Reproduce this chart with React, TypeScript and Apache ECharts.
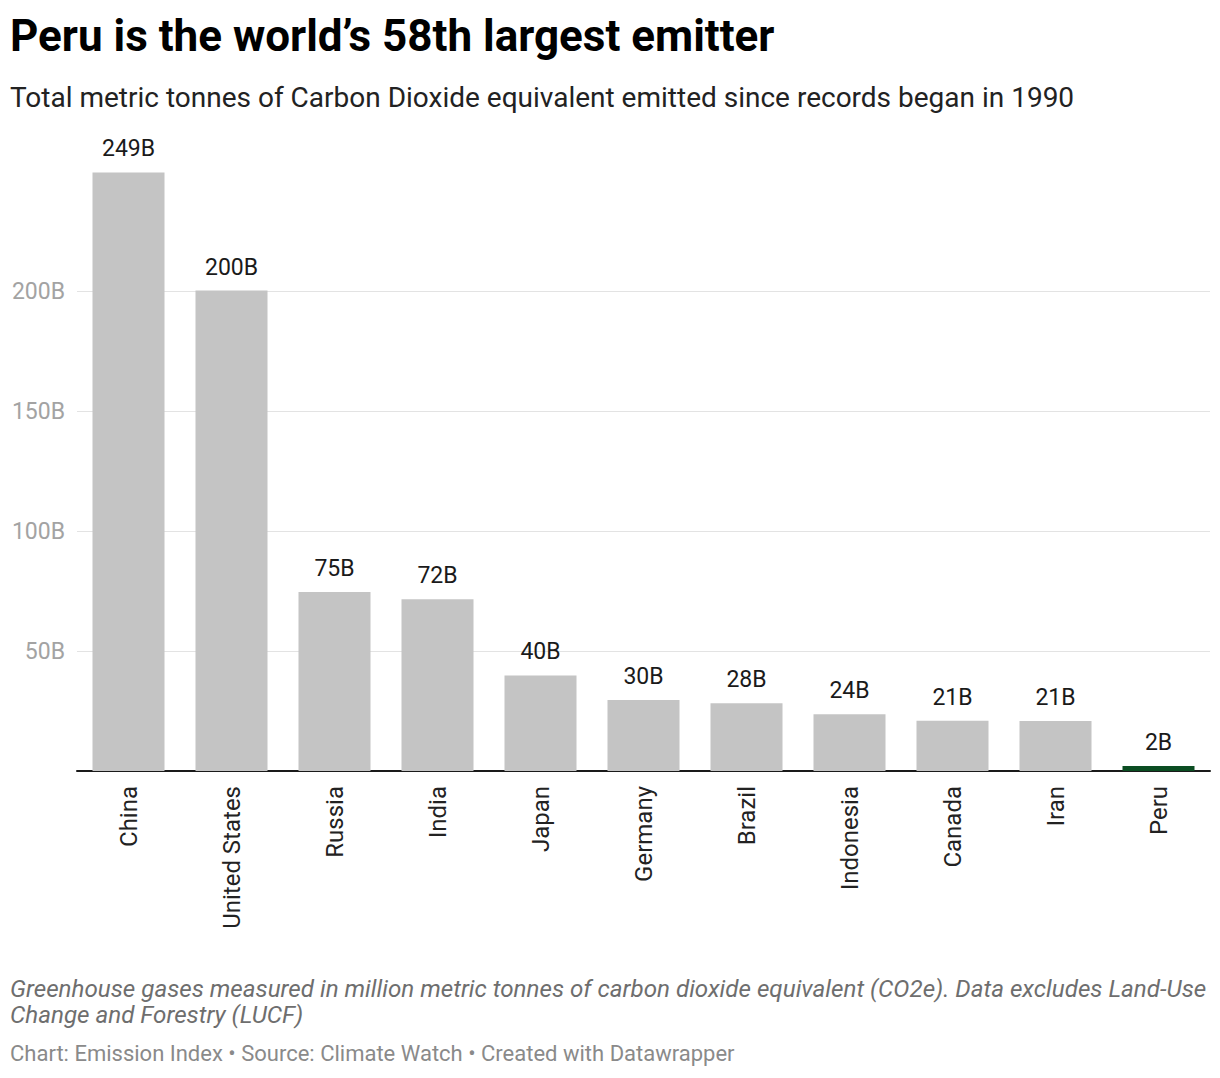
import React, { useEffect, useRef } from 'react';
import * as echarts from 'echarts';

const countries = ['China', 'United States', 'Russia', 'India', 'Japan', 'Germany', 'Brazil', 'Indonesia', 'Canada', 'Iran', 'Peru'];
const emissions = [249.4, 200.2, 74.6, 71.6, 39.8, 29.6, 28.2, 23.6, 20.9, 20.8, 2.1];
const highlight = 'Peru';
const yTicks = [50, 100, 150, 200];

const FONT = 'Roboto, "Noto Sans", sans-serif';

const App: React.FC = () => {
  const chartRef = useRef<HTMLDivElement>(null);

  useEffect(() => {
    if (!chartRef.current) return;
    const chart = echarts.init(chartRef.current, null, { renderer: 'svg' });

    const option: echarts.EChartsOption = {
      animation: false,
      textStyle: { fontFamily: FONT },
      title: [
        {
          text: 'Peru is the world’s 58th largest emitter',
          left: 10,
          top: 11,
          padding: 0,
          textStyle: { fontSize: 44, fontWeight: 'bold', color: '#000', lineHeight: 50, fontFamily: FONT }
        },
        {
          text: 'Total metric tonnes of Carbon Dioxide equivalent emitted since records began in 1990',
          left: 10,
          top: 81,
          padding: 0,
          textStyle: { fontSize: 28, fontWeight: 'normal', color: '#222', lineHeight: 32, fontFamily: FONT }
        },
        {
          text: 'Greenhouse gases measured in million metric tonnes of carbon dioxide equivalent (CO2e). Data excludes Land-Use\nChange and Forestry (LUCF)',
          left: 10,
          top: 976,
          padding: 0,
          textStyle: { fontSize: 24.2, fontWeight: 'normal', fontStyle: 'italic', color: '#6e6e6e', lineHeight: 26, fontFamily: FONT }
        },
        {
          text: 'Chart: Emission Index • Source: Climate Watch • Created with Datawrapper',
          left: 10,
          top: 1041,
          padding: 0,
          textStyle: { fontSize: 22, fontWeight: 'normal', color: '#8a8a8a', lineHeight: 24, fontFamily: FONT }
        }
      ],
      grid: { left: 77, right: 10, top: 171, bottom: 307 },
      xAxis: {
        type: 'category',
        data: countries,
        axisLine: { show: true, lineStyle: { color: '#1a1a1a', width: 2 } },
        axisTick: { show: false },
        axisLabel: {
          rotate: 90,
          margin: 15,
          fontSize: 24,
          color: '#222',
          fontFamily: FONT,
          interval: 0
        }
      },
      yAxis: {
        type: 'value',
        min: 0,
        max: 250,
        interval: 50,
        axisLine: { show: false },
        axisTick: { show: false },
        splitLine: { show: true, showMinLine: false, showMaxLine: false, lineStyle: { color: '#e3e3e3', width: 1 } },
        axisLabel: {
          margin: 12,
          fontSize: 23,
          color: '#a3a3a3',
          fontFamily: FONT,
          formatter: (v: number) => (yTicks.includes(v) ? `${v}B` : '')
        }
      },
      series: [
        {
          type: 'bar',
          barWidth: 72,
          data: emissions.map((v, i) => ({
            value: v,
            itemStyle: { color: countries[i] === highlight ? '#0b4d22' : '#c4c4c4' }
          })),
          label: {
            show: true,
            position: 'top',
            distance: 12,
            fontSize: 23,
            color: '#1a1a1a',
            fontFamily: FONT,
            formatter: (p: any) => `${Math.round(p.value)}B`
          }
        }
      ]
    };

    chart.setOption(option);

    return () => {
      chart.dispose();
    };
  }, []);

  return (
    <div
      ref={chartRef}
      style={{ position: 'absolute', left: 0, top: 0, width: '1220px', height: '1078px', background: '#fff' }}
    />
  );
};

export default App;
